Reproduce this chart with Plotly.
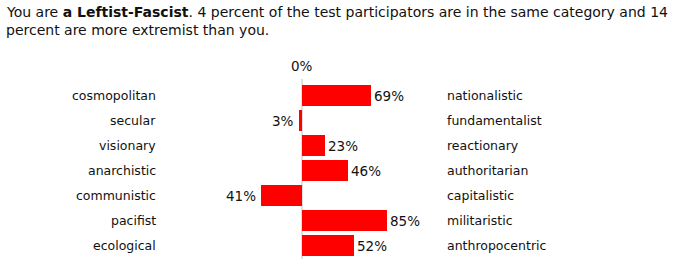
import plotly.graph_objects as go

left_labels = ["cosmopolitan", "secular", "visionary", "anarchistic", "communistic", "pacifist", "ecological"]
right_labels = ["nationalistic", "fundamentalist", "reactionary", "authoritarian", "capitalistic", "militaristic", "anthropocentric"]
values = [69, -3, 23, 46, -41, 85, 52]
value_text = ["69%", "3%", "23%", "46%", "41%", "85%", "52%"]
title_line1 = "You are <b>a Leftist-Fascist</b>. 4 percent of the test participators are in the same category and 14"
title_line2 = "percent are more extremist than you."

FONT = "DejaVu Sans"
W, H = 674, 268
ZERO_PX = 302
ROW0_PX = 95.5
ROW_H = 25

def yv(px):
    return (px - ROW0_PX) / ROW_H

fig = go.Figure()
fig.add_trace(go.Bar(
    x=values, y=list(range(len(values))), orientation="h",
    marker=dict(color="#ff0000", line=dict(width=0)),
    width=0.84, hoverinfo="skip",
))

lab_font = dict(family=FONT, size=12.5, color="#111")
num_font = dict(family=FONT, size=13.5, color="#111")
ann = []
for i, (v, t) in enumerate(zip(values, value_text)):
    if v >= 0:
        ann.append(dict(x=v, y=i, text=t, xanchor="left", xshift=1, showarrow=False, font=num_font))
    else:
        ann.append(dict(x=v, y=i, text=t, xanchor="right", xshift=-3, showarrow=False, font=num_font))
for i, t in enumerate(left_labels):
    ann.append(dict(x=158 - ZERO_PX, y=i, text=t, xanchor="right", showarrow=False, font=lab_font))
for i, t in enumerate(right_labels):
    ann.append(dict(x=445 - ZERO_PX, y=i, text=t, xanchor="left", showarrow=False, font=lab_font))
ann.append(dict(x=0, y=yv(66), text="0%", xanchor="center", showarrow=False, font=num_font))
ann.append(dict(xref="paper", yref="paper", x=4 / W, y=1 - 2 / H, text=title_line1,
                xanchor="left", yanchor="top", showarrow=False, align="left",
                font=dict(family=FONT, size=14, color="#111")))
ann.append(dict(xref="paper", yref="paper", x=4 / W, y=1 - 20 / H, text=title_line2,
                xanchor="left", yanchor="top", showarrow=False, align="left",
                font=dict(family=FONT, size=14, color="#111")))

fig.update_layout(
    width=W, height=H, margin=dict(l=0, r=0, t=0, b=0),
    paper_bgcolor="white", plot_bgcolor="white", showlegend=False,
    xaxis=dict(range=[-ZERO_PX, W - ZERO_PX], visible=False, fixedrange=True),
    yaxis=dict(range=[yv(H), yv(0)], visible=False, fixedrange=True),
    annotations=ann,
    shapes=[dict(type="line", x0=0, x1=0, y0=yv(79), y1=yv(259),
                 line=dict(color="#c0c0c0", width=1), layer="below")],
)
fig.write_html("out.html")
